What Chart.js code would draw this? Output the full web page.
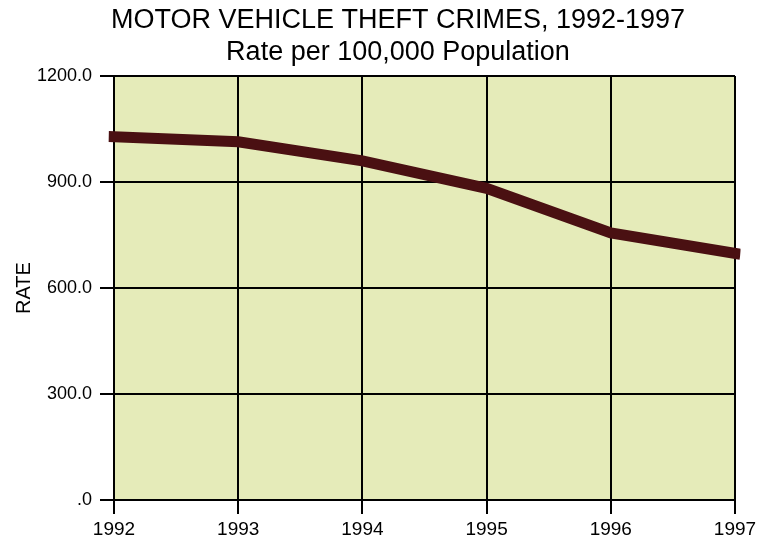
<!DOCTYPE html>
<html>
<head>
<meta charset="utf-8">
<script src="https://cdn.jsdelivr.net/npm/chart.js@4.4.0/dist/chart.umd.min.js"></script>
<style>
  html, body { margin: 0; padding: 0; background: #fff; }
  #wrap { width: 770px; height: 540px; }
</style>
</head>
<body>
<div id="wrap"><canvas id="myChart" width="770" height="540"></canvas></div>
<script>
const years = ['1992', '1993', '1994', '1995', '1996', '1997'];
const rates = [1028, 1014, 960, 882, 756, 698];
const yTicks = [0, 300, 600, 900, 1200];
const titleLines = ['MOTOR VEHICLE THEFT CRIMES, 1992-1997', 'Rate per 100,000 Population'];

// fondo del area del grafico
const plotBg = {
  id: 'plotBg',
  beforeDraw(chart) {
    const { ctx, chartArea } = chart;
    ctx.save();
    ctx.fillStyle = '#e5ebb9';
    ctx.fillRect(chartArea.left, chartArea.top, chartArea.right - chartArea.left, chartArea.bottom - chartArea.top);
    ctx.restore();
  }
};

// titulo centrado un poco a la derecha, como en el original
const titulo = {
  id: 'titulo',
  afterDraw(chart) {
    const ctx = chart.ctx;
    ctx.save();
    ctx.fillStyle = '#000';
    ctx.font = '27px Arial, "Liberation Sans"';
    ctx.textAlign = 'center';
    ctx.textBaseline = 'alphabetic';
    ctx.fillText(titleLines[0], 398, 28);
    ctx.fillText(titleLines[1], 398, 60);
    ctx.restore();
  }
};

const ctx = document.getElementById('myChart').getContext('2d');

new Chart(ctx, {
  type: 'line',
  data: {
    labels: years,
    datasets: [{
      label: 'RATE',
      data: rates,
      borderColor: '#4a1012',
      borderWidth: 11,
      borderCapStyle: 'square',
      pointRadius: 0,
      tension: 0,
      fill: false
    }]
  },
  options: {
    responsive: false,
    animation: false,
    layout: { padding: { left: 8, right: 35, top: 76, bottom: 0 } },
    plugins: {
      legend: { display: false },
      tooltip: { enabled: false },
      title: { display: false }
    },
    scales: {
      x: {
        offset: false,
        grid: { color: '#000', lineWidth: 2, tickLength: 14, drawTicks: true },
        border: { color: '#000', width: 2 },
        ticks: {
          color: '#000',
          padding: 4,
          maxRotation: 0,
          font: { family: 'Arial, "Liberation Sans"', size: 19 }
        },
        afterFit(scale) { scale.height = 40; }
      },
      y: {
        min: 0,
        max: 1200,
        afterBuildTicks(scale) { scale.ticks = yTicks.map(v => ({ value: v })); },
        grid: { color: '#000', lineWidth: 2, tickLength: 14, drawTicks: true },
        border: { color: '#000', width: 2 },
        ticks: {
          color: '#000',
          padding: 8,
          font: { family: 'Arial, "Liberation Sans"', size: 18 },
          callback: v => v === 0 ? '.0' : v.toFixed(1)
        },
        title: {
          display: true,
          text: 'RATE',
          color: '#000',
          font: { family: 'Arial, "Liberation Sans"', size: 20 },
          padding: { top: 4, bottom: 6 }
        },
        afterFit(scale) { scale.width = 106; }
      }
    }
  },
  plugins: [plotBg, titulo]
});
</script>
</body>
</html>
